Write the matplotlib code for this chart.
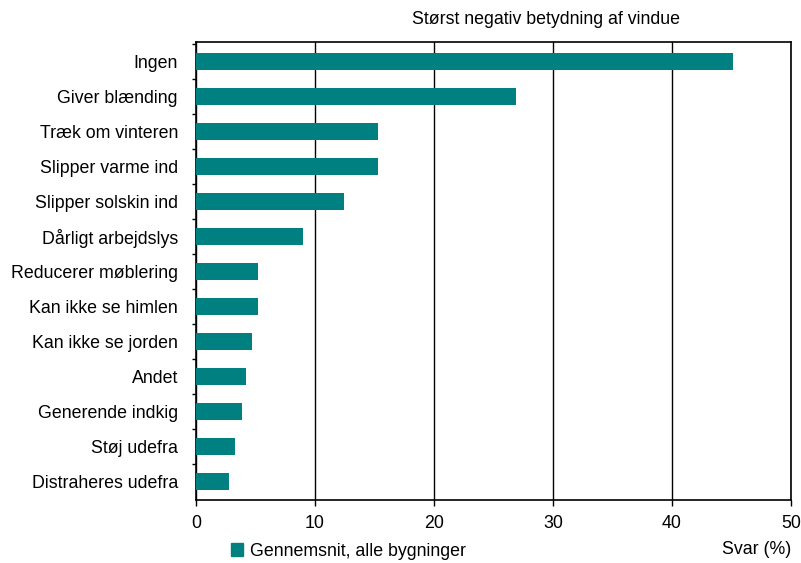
import numpy as np
import matplotlib.pyplot as plt
from matplotlib.patches import Patch

plt.rcParams['font.family'] = ['Liberation Sans', 'DejaVu Sans']

labels = ["Ingen", "Giver blænding", "Træk om vinteren", "Slipper varme ind",
          "Slipper solskin ind", "Dårligt arbejdslys", "Reducerer møblering",
          "Kan ikke se himlen", "Kan ikke se jorden", "Andet",
          "Generende indkig", "Støj udefra", "Distraheres udefra"]
values = [45.1, 26.9, 15.3, 15.3, 12.4, 9.0, 5.2, 5.2, 4.7, 4.2, 3.9, 3.3, 2.8]
xticks = [0, 10, 20, 30, 40, 50]

color = "#008080"
fs = 12.8

fig = plt.figure(figsize=(8.01, 5.63), dpi=100)
ax = fig.add_axes([196/801, 1 - 500/563, (791-196)/801, (500-42)/563])

y = np.arange(len(labels))
ax.barh(y, values, height=0.5, color=color, zorder=3)

ax.set_xlim(0, 50)
ax.set_ylim(12.53, -0.55)
ax.set_xticks(xticks)
ax.set_xticklabels([str(t) for t in xticks], fontsize=fs)
ax.set_yticks(y)
ax.set_yticklabels(labels, fontsize=fs)
ax.tick_params(axis='y', length=0, pad=13)
ax.tick_params(axis='x', length=4, width=1, pad=7)
ax.set_yticks(np.arange(-0.5, 12.5, 1), minor=True)
ax.tick_params(axis='y', which='minor', length=3, width=1)

ax.grid(axis='x', color='black', linewidth=1, zorder=0)
for s in ax.spines.values():
    s.set_color('black')
    s.set_linewidth(1.2)

fig.text(546/801, 1 - 20/563, "Størst negativ betydning af vindue",
         ha='center', va='center', fontsize=fs)
fig.text(791/801, 1 - 549/563, "Svar (%)", ha='right', va='center', fontsize=fs)

fig.legend(handles=[Patch(color=color, label="Gennemsnit, alle bygninger")],
           loc='center left', bbox_to_anchor=(222/801, 1 - 551/563),
           frameon=False, fontsize=fs, handlelength=0.7, handleheight=0.7,
           handletextpad=0.4, borderpad=0)

fig.savefig("out.png", dpi=100)
